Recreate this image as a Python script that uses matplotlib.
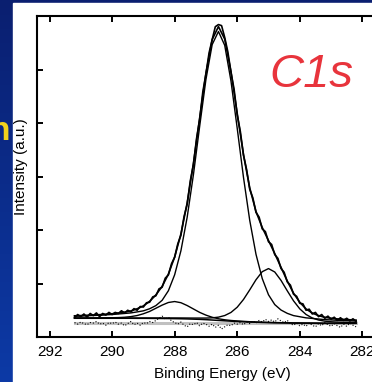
import numpy as np
import matplotlib
matplotlib.use("Agg")
import matplotlib.pyplot as plt
from matplotlib.patches import Rectangle

# binding energy grids (eV)
energy_fit = np.round(np.arange(291.2, 282.19, -0.2), 2)   # 46 points
energy_raw = np.round(np.arange(291.2, 282.19, -0.1), 2)   # 91 points

# Shirley-type background
background = [0.350, 0.350, 0.350, 0.350, 0.350, 0.350, 0.350, 0.350, 0.350, 0.350,
              0.349, 0.349, 0.348, 0.347, 0.346, 0.345, 0.343, 0.341, 0.338, 0.334,
              0.330, 0.324, 0.317, 0.310, 0.303, 0.296, 0.290, 0.285, 0.280, 0.276,
              0.272, 0.269, 0.266, 0.264, 0.262, 0.260, 0.259, 0.258, 0.257, 0.256,
              0.255, 0.255, 0.255, 0.255, 0.255, 0.255]

# fitted components above background: C-O (286.6), C-C (285.0), C=O (288.0)
peak_co = [0.039, 0.043, 0.048, 0.052, 0.057, 0.064, 0.070, 0.080, 0.090, 0.100,
           0.120, 0.140, 0.180, 0.240, 0.340, 0.520, 0.820, 1.270, 1.900, 2.700,
           3.610, 4.490, 5.150, 5.400, 5.150, 4.490, 3.610, 2.700, 1.900, 1.270,
           0.820, 0.520, 0.340, 0.240, 0.180, 0.140, 0.120, 0.100, 0.090, 0.080,
           0.070, 0.064, 0.057, 0.052, 0.048, 0.043]
peak_cc = [0.003, 0.003, 0.003, 0.003, 0.004, 0.004, 0.004, 0.005, 0.005, 0.005,
           0.006, 0.007, 0.008, 0.009, 0.010, 0.011, 0.013, 0.015, 0.017, 0.020,
           0.024, 0.030, 0.041, 0.061, 0.098, 0.163, 0.267, 0.416, 0.601, 0.794,
           0.949, 1.010, 0.949, 0.794, 0.601, 0.416, 0.267, 0.163, 0.098, 0.061,
           0.041, 0.030, 0.024, 0.020, 0.017, 0.015]
peak_c_o = [0.004, 0.004, 0.005, 0.005, 0.006, 0.008, 0.010, 0.013, 0.019, 0.031,
            0.052, 0.085, 0.130, 0.190, 0.250, 0.300, 0.320, 0.300, 0.250, 0.190,
            0.130, 0.085, 0.052, 0.031, 0.019, 0.013, 0.010, 0.008, 0.006, 0.005,
            0.005, 0.004, 0.004, 0.004, 0.003, 0.003, 0.003, 0.003, 0.003, 0.003,
            0.002, 0.002, 0.002, 0.002, 0.002, 0.002]

# measured C1s counts
measured = [0.36, 0.42, 0.38, 0.43, 0.37, 0.44, 0.40, 0.45, 0.38, 0.44,
            0.41, 0.46, 0.42, 0.46, 0.44, 0.49, 0.45, 0.50, 0.47, 0.53,
            0.50, 0.57, 0.56, 0.64, 0.65, 0.75, 0.77, 0.90, 0.93, 1.10,
            1.16, 1.37, 1.49, 1.74, 1.90, 2.25, 2.48, 2.92, 3.22, 3.71,
            4.07, 4.58, 4.92, 5.31, 5.56, 5.80, 5.84, 5.82, 5.60, 5.33,
            4.95, 4.63, 4.15, 3.84, 3.40, 3.13, 2.76, 2.60, 2.33, 2.24,
            2.02, 1.97, 1.78, 1.73, 1.54, 1.47, 1.28, 1.21, 1.03, 0.97,
            0.80, 0.76, 0.63, 0.62, 0.50, 0.52, 0.43, 0.46, 0.38, 0.42,
            0.35, 0.39, 0.33, 0.37, 0.31, 0.36, 0.31, 0.35, 0.30, 0.34,
            0.29]

# fit residual (offset)
residual = [0.27, 0.24, 0.28, 0.25, 0.23, 0.27, 0.26, 0.29, 0.24, 0.26,
            0.22, 0.27, 0.25, 0.28, 0.24, 0.26, 0.21, 0.25, 0.29, 0.23,
            0.26, 0.22, 0.27, 0.25, 0.29, 0.27, 0.31, 0.35, 0.39, 0.33,
            0.37, 0.30, 0.27, 0.24, 0.28, 0.22, 0.19, 0.25, 0.23, 0.27,
            0.21, 0.26, 0.24, 0.20, 0.24, 0.18, 0.22, 0.15, 0.19, 0.23,
            0.21, 0.26, 0.24, 0.27, 0.23, 0.28, 0.25, 0.30, 0.26, 0.31,
            0.28, 0.33, 0.29, 0.32, 0.28, 0.34, 0.30, 0.27, 0.31, 0.25,
            0.22, 0.26, 0.21, 0.24, 0.20, 0.26, 0.22, 0.19, 0.25, 0.21,
            0.27, 0.23, 0.20, 0.25, 0.21, 0.18, 0.24, 0.20, 0.26, 0.22,
            0.19]
zero_level = 0.255

xticks = [292, 290, 288, 286, 284, 282]

plt.rcParams['font.family'] = ['Liberation Sans', 'DejaVu Sans']

fig = plt.figure(figsize=(3.72, 3.82), dpi=100)

# slide background: blue gradient, yellow heading letter, white panel on top
bg = fig.add_axes([0, 0, 1, 1], zorder=-10)
grad = np.linspace(0, 1, 256).reshape(-1, 1)
bg.imshow(grad, aspect='auto', extent=[0, 1, 0, 1], zorder=0,
          cmap=matplotlib.colors.LinearSegmentedColormap.from_list(
              'slide', ['#0a1f70', '#0d3aa6']))
bg.text(0.0, 0.655, 'n', color='#f2d21c', fontsize=24, fontweight='bold',
        ha='center', va='center', zorder=1)
bg.add_patch(Rectangle((13 / 372, 0), 1, 1 - 3 / 382, color='white', zorder=2))
bg.set_xlim(0, 1)
bg.set_ylim(0, 1)
bg.axis('off')

ax = fig.add_axes([37 / 372, 45 / 382, 341 / 372, 321 / 382])
ax.set_facecolor('none')

base = np.array(background)
fit = base + np.array(peak_co) + np.array(peak_cc) + np.array(peak_c_o)

ax.plot(energy_fit, np.full(len(energy_fit), zero_level), color='#c0c0c0', lw=2.2, zorder=1)
ax.plot(energy_raw, residual, color='black', lw=0.8, ls=':', zorder=2)
ax.plot(energy_fit, base, color='black', lw=1.1, zorder=3)
ax.plot(energy_fit, base + np.array(peak_c_o), color='black', lw=1.0, zorder=3)
ax.plot(energy_fit, base + np.array(peak_cc), color='black', lw=1.0, zorder=3)
ax.plot(energy_fit, base + np.array(peak_co), color='black', lw=1.0, zorder=3)
ax.plot(energy_fit, fit, color='black', lw=1.2, zorder=4)
ax.plot(energy_raw, measured, color='black', lw=1.2, zorder=4)

ax.set_xlim(292.4, 281.5)
ax.set_ylim(0, 6)
ax.set_xticks(xticks)
ax.set_xticklabels([str(t) for t in xticks])
ax.set_yticks([1, 2, 3, 4, 5])
ax.set_yticklabels([])
ax.tick_params(direction='in', length=4, width=1.4, top=True, right=False,
               labelsize=11, pad=6)
for side in ('left', 'bottom', 'top'):
    ax.spines[side].set_linewidth(1.5)
ax.spines['right'].set_visible(False)

ax.set_xlabel('Binding Energy (eV)', fontsize=11)
ax.xaxis.set_label_coords(0.545, -0.095)
ax.set_ylabel('Intensity (a.u.)', fontsize=11)
ax.yaxis.set_label_coords(-0.026, 0.53)

ax.text(0.805, 0.815, 'C1s', transform=ax.transAxes, color='#e8343c',
        fontsize=34, style='italic', ha='center', va='center')

fig.savefig('out.png', dpi=100)
